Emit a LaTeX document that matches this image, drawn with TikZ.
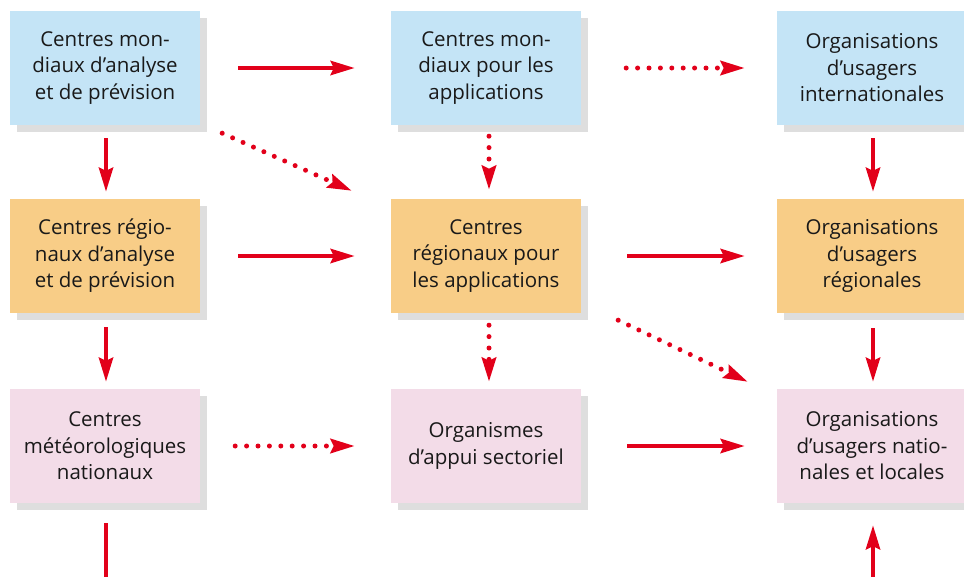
\documentclass[tikz,border=0pt]{standalone}
\usepackage{fontspec}
\setmainfont{Open Sans}
\usetikzlibrary{arrows.meta,calc,shadows}

\definecolor{wmored}{HTML}{E2001A}
\definecolor{mondial}{HTML}{C4E4F6}
\definecolor{regional}{HTML}{F8CD87}
\definecolor{national}{HTML}{F3DCE8}
\definecolor{shade}{HTML}{DEDEDE}

\begin{document}
\begin{tikzpicture}[x=1pt,y=-1pt,>={Stealth[length=24pt,width=14pt,inset=3pt]},
  every node/.style={font=\fontsize{20.5}{26.5}\selectfont,text=black!90},
  centrebox/.style={rectangle,minimum width=190pt,minimum height=114pt,inner sep=0pt,align=center,
    drop shadow={shadow xshift=7pt,shadow yshift=-7pt,fill=shade,opacity=1}},
  plain/.style={draw=wmored,line width=4.5pt,->},
  dotty/.style={draw=wmored,line width=5pt,line cap=round,dash pattern=on 0pt off 11.4pt,->}]

\useasboundingbox (0,0) rectangle (964,576);

\foreach \name/\x/\y/\col/\text in {
  cm/105/68/mondial/{Centres mon-\\diaux d’analyse\\et de prévision},
  am/486/68/mondial/{Centres mon-\\diaux pour les\\applications},
  ui/872/68/mondial/{Organisations\\d’usagers\\internationales},
  cr/105/256/regional/{Centres régio-\\naux d’analyse\\et de prévision},
  ar/486/256/regional/{Centres\\régionaux pour\\les applications},
  ur/872/256/regional/{Organisations\\d’usagers\\régionales},
  cn/105/446/national/{Centres\\météorologiques\\nationaux},
  oa/486/446/national/{Organismes\\d’appui sectoriel},
  un/872/446/national/{Organisations\\d’usagers natio-\\nales et locales}}
\node[centrebox,fill=\col](\name) at (\x,\y) {\text};

\coordinate (cnend) at (106,580);
\coordinate (unstart) at (873,580);

% horizontal
\path[plain,shorten <=38pt,shorten >=36pt] (cm) edge (am) (cr) edge (ar);
\path[dotty,shorten <=45pt,shorten >=32pt] (am) edge (ui);
\path[plain,shorten <=46pt,shorten >=32pt] (ar) edge (ur) (oa) edge (un);
\path[dotty,shorten <=35pt,shorten >=36pt] (cn) edge (oa);

% vertical
\draw[plain,shorten <=13pt,shorten >=7pt] ($(cm.south)+(1,0)$) -- ($(cr.north)+(1,0)$);
\draw[plain,shorten <=14pt,shorten >=7pt] ($(cr.south)+(1,0)$) -- ($(cn.north)+(1,0)$);
\draw[dotty,shorten <=11pt,shorten >=9pt] ($(am.south)+(3,0)$) -- ($(ar.north)+(3,0)$);
\draw[dotty,shorten <=12pt,shorten >=7pt] ($(ar.south)+(3,0)$) -- ($(oa.north)+(3,0)$);
\draw[plain,shorten <=13pt,shorten >=7pt] ($(ui.south)+(1,0)$) -- ($(ur.north)+(1,0)$);
\draw[plain,shorten <=15pt,shorten >=7pt] ($(ur.south)+(1,0)$) -- ($(un.north)+(1,0)$);
\draw[plain,-,shorten <=20pt] ($(cn.south)+(1,0)$) -- (cnend);
\draw[plain,shorten >=22pt] (unstart) -- ($(un.south)+(1,0)$);

% diagonal
\draw[dotty] ($(cm.south east)+(22,8)$) -- ($(ar.north west)+(-39,-8)$);
\draw[dotty] ($(ar.south east)+(37,7)$) -- ($(un.north west)+(-29,-7)$);

\end{tikzpicture}
\end{document}
